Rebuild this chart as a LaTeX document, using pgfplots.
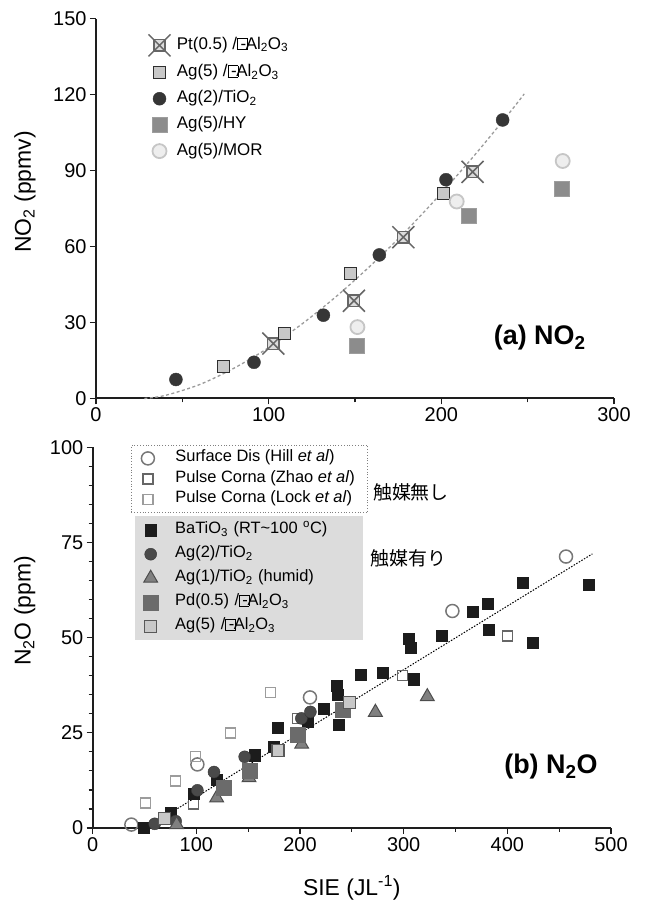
\documentclass[border=0pt]{standalone}
\usepackage{fontspec}
\setmainfont{Liberation Sans}
\newfontfamily\cjk{Noto Sans CJK JP}
\usepackage{pgfplots}
\pgfplotsset{compat=1.18}

\definecolor{axcol}{HTML}{1E1E1E}
\definecolor{ptcol}{HTML}{666666}
\definecolor{ptfill}{HTML}{DCDCDC}
\definecolor{agfill}{HTML}{C8C8C8}
\definecolor{agdraw}{HTML}{2E2E2E}
\definecolor{tio}{HTML}{363636}
\definecolor{hy}{HTML}{8C8C8C}
\definecolor{morfill}{HTML}{EEEEEE}
\definecolor{mordraw}{HTML}{C6C6C6}
\definecolor{fitcol}{HTML}{9A9A9A}
\definecolor{bat}{HTML}{1C1C1C}
\definecolor{trifill}{HTML}{808080}
\definecolor{tridraw}{HTML}{4D4D4D}
\definecolor{pd}{HTML}{6B6B6B}
\definecolor{hill}{HTML}{777777}
\definecolor{zhao}{HTML}{666666}
\definecolor{lock}{HTML}{9C9C9C}
\definecolor{legfill}{HTML}{DCDCDC}

\pgfdeclareplotmark{sqx}{%
  \pgfpathrectangle{\pgfpoint{-0.52\pgfplotmarksize}{-0.52\pgfplotmarksize}}{\pgfpoint{1.04\pgfplotmarksize}{1.04\pgfplotmarksize}}%
  \pgfusepathqfillstroke
  \pgfpathmoveto{\pgfpoint{-\pgfplotmarksize}{-\pgfplotmarksize}}%
  \pgfpathlineto{\pgfpoint{\pgfplotmarksize}{\pgfplotmarksize}}%
  \pgfpathmoveto{\pgfpoint{-\pgfplotmarksize}{\pgfplotmarksize}}%
  \pgfpathlineto{\pgfpoint{\pgfplotmarksize}{-\pgfplotmarksize}}%
  \pgfusepathqstroke}

\newcommand{\gm}{{\fboxsep=0pt\fboxrule=0.6pt\fbox{\rule{0pt}{0.62em}\hspace{0.55em}}}\kern-0.42em-\kern-0.02em}

\pgfplotsset{
  common/.style={
    scale only axis, clip=false,
    axis lines=left,
    axis line style={-, line width=2bp, color=axcol},
    tick style={line width=1.2bp, color=axcol},
    tick align=outside,
    major tick length=6bp, minor tick length=4bp,
    tick label style={font=\fontsize{20}{22}\selectfont},
    /pgf/number format/assume math mode=true,
    legend cell align=left,
  }
}

\begin{document}
\begin{tikzpicture}
\useasboundingbox (0,0) rectangle (653bp,904bp);

% ---------------- (a) NO2 ----------------
\begin{axis}[common,
  at={(96bp,505.5bp)}, anchor=south west,
  width=518bp, height=379.8bp,
  xmin=0, xmax=300, ymin=0, ymax=150,
  xtick={0,100,200,300}, minor x tick num=1,
  ytick={0,30,60,90,120,150},
  ylabel={NO\textsubscript{2} (ppmv)},
  ylabel style={font=\fontsize{23}{26}\selectfont, at={(axis description cs:-0.137,0.544)}, anchor=center},
  legend style={at={(axis description cs:0.0952,0.9645)}, anchor=north west, draw=none, fill=none,
    font=\fontsize{17}{19}\selectfont, row sep=6.2bp,
    /tikz/every odd column/.append style={column sep=4.4bp},
    nodes={text height=12bp, text depth=4bp}},
]
\addplot[forget plot, color=fitcol, line width=1.3bp, dash pattern=on 3bp off 2.5bp, smooth]
  coordinates {(28,0) (40,1.2) (60,5.5) (80,12.0) (100,20.1) (120,29.8) (140,40.8) (160,53.1) (180,66.5) (200,81.1) (220,96.7) (240,113.3) (248,120.3)};

\addplot[only marks, mark=sqx, mark size=11bp, mark options={draw=ptcol, fill=ptfill, line width=1.5bp}]
  coordinates {(102.7,21.7) (149.4,38.6) (178,63.7) (218.1,89.5)};
\addlegendentry{Pt(0.5) /\gm Al\textsubscript{2}O\textsubscript{3}}

\addplot[only marks, mark=square*, mark size=6bp, mark options={draw=agdraw, fill=agfill, line width=1.1bp}]
  coordinates {(74.1,12.5) (109.3,25.7) (147.5,49.3) (201.2,80.8)};
\addlegendentry{Ag(5) /\gm Al\textsubscript{2}O\textsubscript{3}}

\addplot[only marks, mark=*, mark size=6.5bp, mark options={draw=tio, fill=tio}]
  coordinates {(46.3,7.5) (91.5,14.3) (131.7,32.9) (164.1,56.7) (202.7,86.4) (235.5,110)};
\addlegendentry{Ag(2)/TiO\textsubscript{2}}

\addplot[only marks, mark=square*, mark size=7.6bp, mark options={draw=hy!85!white, fill=hy, line width=0.8bp}]
  coordinates {(151,20.7) (215.8,72.2) (269.9,82.8)};
\addlegendentry{Ag(5)/HY}

\addplot[only marks, mark=*, mark size=7bp, mark options={draw=mordraw, fill=morfill, line width=1.8bp}]
  coordinates {(151.4,28.2) (208.9,77.8) (270.3,93.8)};
\addlegendentry{Ag(5)/MOR}

\node[font=\fontsize{27}{30}\selectfont\bfseries] at (axis cs:257,23.9) {(a) NO\textsubscript{2}};
\end{axis}

% ---------------- (b) N2O ----------------
\begin{axis}[common,
  at={(92.7bp,76bp)}, anchor=south west,
  width=518.3bp, height=380.7bp,
  xmin=0, xmax=500, ymin=0, ymax=100,
  xtick={0,100,200,300,400,500}, minor x tick num=1,
  ytick={0,25,50,75,100}, minor y tick num=4,
  xlabel={SIE (JL\textsuperscript{-1})},
  xlabel style={font=\fontsize{23}{26}\selectfont, at={(axis description cs:0.5,-0.158)}, anchor=center},
  ylabel={N\textsubscript{2}O (ppm)},
  ylabel style={font=\fontsize{23}{26}\selectfont, at={(axis description cs:-0.131,0.57)}, anchor=center},
  legend style={at={(axis description cs:0.0816,0.8195)}, anchor=north west, draw=none, fill=legfill,
    font=\fontsize{16.5}{18}\selectfont, row sep=8bp, inner xsep=8bp, inner ysep=6bp,
    /tikz/every odd column/.append style={column sep=14bp},
    nodes={inner xsep=3bp, inner ysep=0bp, text height=11.5bp, text depth=4.5bp, text width=177bp, align=left}},
]
\addplot[forget plot, color=black, line width=1bp, dash pattern=on 1.5bp off 1.5bp]
  coordinates {(62,1.8) (482,72)};

% non-catalyst
\addplot[forget plot, only marks, mark=o, mark size=6.5bp, mark options={draw=hill, line width=1.5bp, fill=white}]
  coordinates {(37.3,0.9) (101,16.7) (209.6,34.3) (347,57) (456.6,71.3)};
\addplot[forget plot, only marks, mark=square, mark size=5bp, mark options={draw=zhao, line width=1.5bp, fill=white}]
  coordinates {(97,6.3) (197.4,28.7) (299,40.1) (400,50.4)};
\addplot[forget plot, only marks, mark=square, mark size=5bp, mark options={draw=lock, line width=1.5bp, fill=white}]
  coordinates {(51.1,6.6) (80,12.3) (99.4,18.8) (133,25) (171.7,35.6)};

% catalyst
\addplot[only marks, mark=square*, mark size=5.6bp, mark options={draw=bat, fill=bat}]
  coordinates {(49.5,0) (75.2,4.1) (97.7,9) (119.6,12.7) (156.6,19.1) (174.3,21.3) (178.1,26.4)
  (207.5,28) (223.2,31.4) (235.7,37.3) (236.7,35.1) (237,27.1) (258.8,40.2) (279.7,40.8)
  (304.5,49.7) (306.8,47.3) (309.6,39.1) (336.7,50.6) (366.6,56.8) (381.4,58.9) (382,52.1)
  (414.5,64.5) (424.4,48.7) (478.5,64)};
\addlegendentry{BaTiO\textsubscript{3} (RT\textasciitilde 100 \textsuperscript{o}C)}

\addplot[only marks, mark=*, mark size=6bp, mark options={draw=tio, fill=tio!90!white}]
  coordinates {(59.8,1.1) (80,1.8) (101,9.9) (117,14.7) (146.6,18.7) (201.3,28.8) (210,30.5)};
\addlegendentry{Ag(2)/TiO\textsubscript{2}}

\addplot[only marks, mark=triangle*, mark size=8bp, mark options={draw=tridraw, fill=trifill, line width=1bp}]
  coordinates {(81,0.9) (119.6,7.9) (150.8,13.2) (201.6,22) (272.7,30.4) (322.8,34.5)};
\addlegendentry{Ag(1)/TiO\textsubscript{2} (humid)}

\addplot[only marks, mark=square*, mark size=7.5bp, mark options={draw=pd, fill=pd}]
  coordinates {(126.7,10.6) (151.8,15.1) (197.4,24.6) (241.2,31)};
\addlegendentry{Pd(0.5) /\gm Al\textsubscript{2}O\textsubscript{3}}

\addplot[only marks, mark=square*, mark size=6bp, mark options={draw=agdraw!80!white, fill=agfill, line width=1.1bp}]
  coordinates {(69.5,2.6) (178.8,20.4) (247.6,32.9)};
\addlegendentry{Ag(5) /\gm Al\textsubscript{2}O\textsubscript{3}}

\node[font=\fontsize{27}{30}\selectfont\bfseries] at (axis cs:442,16.1) {(b) N\textsubscript{2}O};
\node[font=\fontsize{19}{22}\selectfont\cjk] at (axis cs:307,88.3) {触媒無し};
\node[font=\fontsize{19}{22}\selectfont\cjk] at (axis cs:304.5,70.8) {触媒有り};
\end{axis}

% dotted legend (non-catalyst) drawn through an overlaid hidden axis
\begin{axis}[hide axis, scale only axis,
  at={(92.7bp,76bp)}, anchor=south west,
  width=518.3bp, height=380.7bp,
  xmin=0, xmax=500, ymin=0, ymax=100,
  legend cell align=left,
  legend style={at={(axis description cs:0.0739,1.006)}, anchor=north west,
    draw=gray, dotted, line width=0.8bp, fill=white,
    font=\fontsize{16.5}{18}\selectfont, row sep=4.5bp, inner xsep=10bp, inner ysep=5bp,
    /tikz/every odd column/.append style={column sep=18bp},
    nodes={inner xsep=3bp, inner ysep=0bp, text height=11.5bp, text depth=4.5bp, solid}},
]
\addlegendimage{only marks, mark=o, mark size=6.5bp, mark options={draw=hill, line width=1.5bp, fill=white, solid}}
\addlegendentry{Surface Dis (Hill \textit{et al})}
\addlegendimage{only marks, mark=square, mark size=5bp, mark options={draw=zhao, line width=1.5bp, fill=white, solid}}
\addlegendentry{Pulse Corna (Zhao \textit{et al})}
\addlegendimage{only marks, mark=square, mark size=5bp, mark options={draw=lock, line width=1.5bp, fill=white, solid}}
\addlegendentry{Pulse Corna (Lock \textit{et al})}
\end{axis}
\end{tikzpicture}
\end{document}
